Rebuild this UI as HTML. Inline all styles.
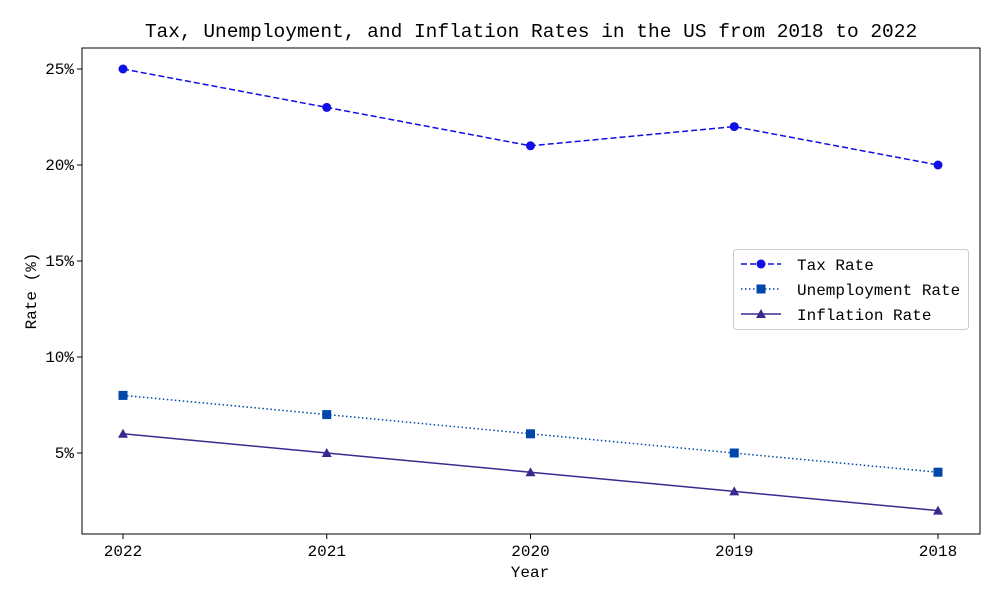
<!DOCTYPE html>
<html><head><meta charset="utf-8"><style>
body{margin:0;background:#fff}
svg text{font-family:"WenQuanYi Zen Hei","Liberation Mono",monospace;fill:#000}
</style></head><body>
<svg width="1000" height="600" id="chart" xmlns="http://www.w3.org/2000/svg">
<rect width="1000" height="600" fill="#fff"/>
<text x="531" y="37" font-size="19.5" text-anchor="middle">Tax, Unemployment, and Inflation Rates in the US from 2018 to 2022</text>
<rect x="82" y="48" width="898" height="486" fill="none" stroke="#000" stroke-width="1"/>
<g id="xt"></g><g id="yt"></g><g id="series"></g>
<text x="530" y="577" font-size="16" text-anchor="middle">Year</text>
<text transform="translate(36,291) rotate(-90)" font-size="16" text-anchor="middle">Rate (%)</text>
<g>
<rect x="733.5" y="249.5" width="235" height="80" rx="3" fill="#fff" stroke="#ccc"/>
<g>
<line x1="741" y1="264" x2="781" y2="264" stroke="#0f0fe6" stroke-width="1.5" stroke-dasharray="6,3"/><circle cx="761" cy="264" r="4.5" fill="#0f0fe6"/>
<text x="797" y="270" font-size="16">Tax Rate</text></g>
<g>
<line x1="741" y1="289" x2="781" y2="289" stroke="#0047ab" stroke-width="1.5" stroke-dasharray="1.5,2.5"/><rect x="756.5" y="284.5" width="9" height="9" fill="#0047ab"/>
<text x="797" y="295" font-size="16">Unemployment Rate</text></g>
<g>
<line x1="741" y1="314" x2="781" y2="314" stroke="#3a2a8f" stroke-width="1.5"/><path d="M761,309 L766,318 L756,318Z" fill="#3a2a8f"/>
<text x="797" y="320" font-size="16">Inflation Rate</text></g>
</g>
</svg>
<script>
const years=["2022","2021","2020","2019","2018"];
const taxRate=[25,23,21,22,20];
const unemploymentRate=[8,7,6,5,4];
const inflationRate=[6,5,4,3,2];
const yTicks=[5,10,15,20,25];
const NS="http://www.w3.org/2000/svg";
const xS=i=>123+i*203.75;
const yS=v=>549-v*19.2;
function mk(tag,attrs,parent){const e=document.createElementNS(NS,tag);for(const k in attrs)e.setAttribute(k,attrs[k]);parent.appendChild(e);return e;}
const xt=document.getElementById('xt'),yt=document.getElementById('yt'),sg=document.getElementById('series');
years.forEach((y,i)=>{
  const l=mk('line',{x1:xS(i),x2:xS(i),y1:534,y2:539,stroke:'#000'},xt);
  
  
  const t=mk('text',{x:xS(i),y:556,'font-size':16,'text-anchor':'middle'},xt);t.textContent=y;
  
  
});
yTicks.forEach(v=>{
  const l=mk('line',{x1:77,x2:82,y1:yS(v),y2:yS(v),stroke:'#000'},yt);
  
  
  const t=mk('text',{x:74,y:yS(v)+5,'font-size':16,'text-anchor':'end'},yt);t.textContent=v+'%';
  
  
});
function series(vals,color,dash,marker,name){
  const g=mk('g',{},sg);
  
  
  const p=mk('polyline',{points:vals.map((v,i)=>xS(i)+','+yS(v)).join(' '),fill:'none',stroke:color,'stroke-width':1.5},g);
  if(dash)p.setAttribute('stroke-dasharray',dash);
  vals.forEach((v,i)=>{
    const x=xS(i),y=yS(v);let m;
    if(marker==='c')m=mk('circle',{cx:x,cy:y,r:4.5,fill:color},g);
    else if(marker==='s')m=mk('rect',{x:x-4.5,y:y-4.5,width:9,height:9,fill:color},g);
    else m=mk('path',{d:`M${x},${y-5} L${x+5},${y+4} L${x-5},${y+4}Z`,fill:color},g);
    
    
  });
}
series(taxRate,'#0f0fe6','6,3','c','tax-rate-series');
series(unemploymentRate,'#0047ab','1.5,2.5','s','unemployment-rate-series');
series(inflationRate,'#3a2a8f',null,'t','inflation-rate-series');
</script>
</body></html>
